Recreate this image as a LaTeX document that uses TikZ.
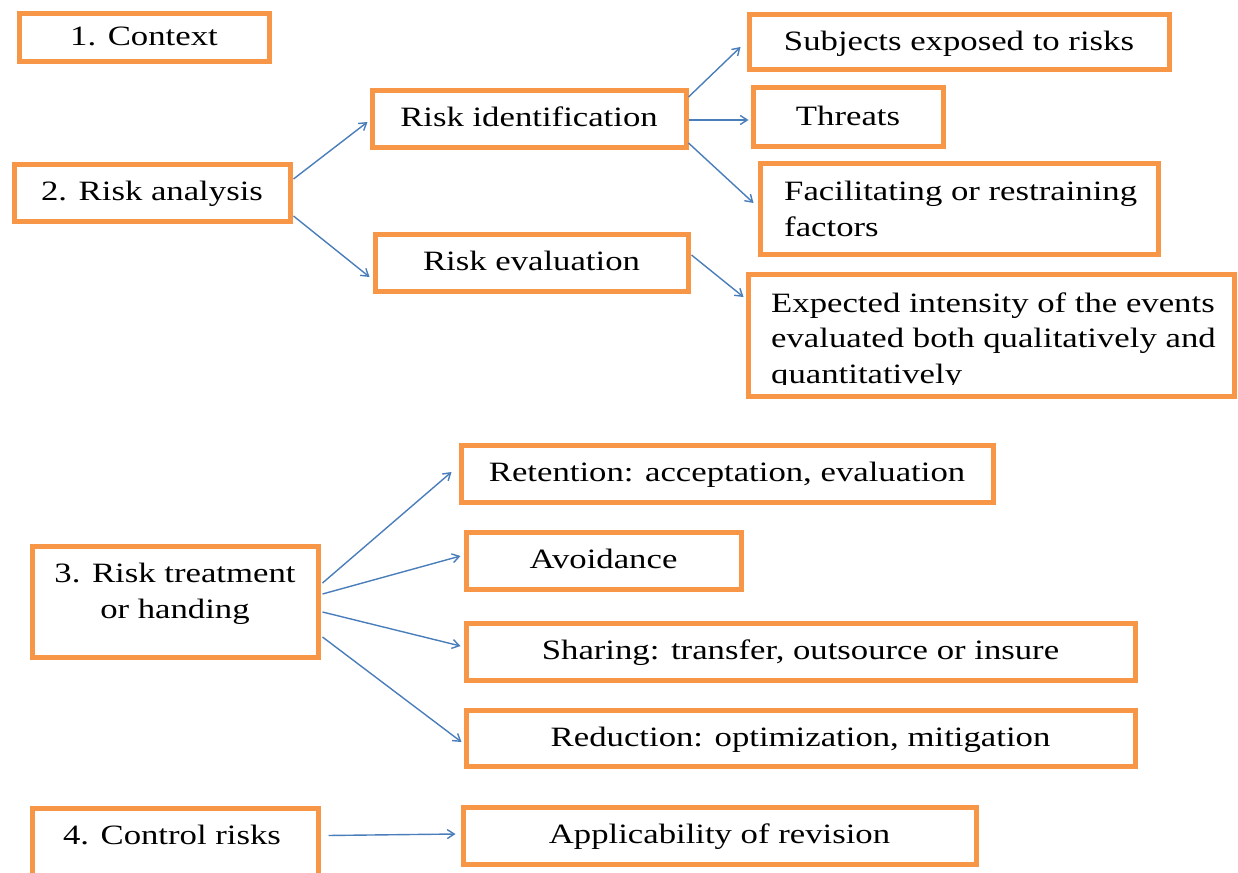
\documentclass[tikz,border=0pt]{standalone}
\usepackage{fontspec}
\setmainfont{Liberation Serif}[FakeStretch=1.24]
\usetikzlibrary{arrows.meta,calc}
\definecolor{boxorange}{HTML}{F79646}
\definecolor{arrowblue}{HTML}{4A7EBB}
\begin{document}
\begin{tikzpicture}[x=1pt,y=-1pt,
  box/.style={draw=boxorange, line width=5pt, rectangle, inner sep=0pt,
    font=\fontsize{28}{36}\selectfont, text height=21pt, text depth=5pt},
  txt/.style={inner sep=0pt, font=\fontsize{28}{36}\selectfont},
  conn/.style={draw=arrowblue, line width=1.4pt, -{Straight Barb[length=7pt,width=9pt]}}]
\useasboundingbox (0,0) rectangle (1238,872);
\clip (0,0) rectangle (1238,872);

% stage 1 and 2
\node[box, minimum width=250pt, minimum height=48pt] (ctx) at (144,38) {1. Context};
\node[box, minimum width=276pt, minimum height=57pt] (ana) at (152,192.5) {2. Risk analysis};
\node[box, minimum width=314pt, minimum height=56pt] (ide) at (529,119) {Risk identification};
\node[box, minimum width=313pt, minimum height=57pt] (eva) at (531.5,262.5) {Risk evaluation};
\node[box, minimum width=420pt, minimum height=55pt] (sub) at (959,42.5) {Subjects exposed to risks};
\node[box, minimum width=190pt, minimum height=58pt] (thr) at (848,117) {Threats};
\node[box, minimum width=398pt, minimum height=91pt] (fac) at (959,208.5) {};
\node[txt, anchor=base west] (fac1) at (784,200) {Facilitating or restraining};
\node[txt, anchor=base west] (fac2) at (784,236) {factors};
\node[box, minimum width=486pt, minimum height=122pt] (exp) at (991,335) {};
\begin{scope}
\clip (750,276) rectangle (1232,384.5);
\node[txt, anchor=base west] (exp1) at (771,312) {Expected intensity of the events};
\node[txt, anchor=base west] (exp2) at (771,347) {evaluated both qualitatively and};
\node[txt, anchor=base west] (exp3) at (771,383) {quantitatively};
\end{scope}

% stage 3
\node[box, minimum width=286pt, minimum height=111pt] (tre) at (175,601.5) {};
\node[txt, anchor=base] (tre1) at (175,582) {3. Risk treatment};
\node[txt, anchor=base] (tre2) at (175,618) {or handing};
\node[box, minimum width=532pt, minimum height=57pt] (ret) at (727,473.5) {Retention: acceptation, evaluation};
\node[box, minimum width=275pt, minimum height=57pt] (avo) at (603.5,560.5) {Avoidance};
\node[box, minimum width=669pt, minimum height=57pt] (sha) at (800.5,651.5) {Sharing: transfer, outsource or insure};
\node[box, minimum width=669pt, minimum height=56pt] (red) at (800.5,738) {Reduction: optimization, mitigation};

% stage 4
\node[box, minimum width=286pt, minimum height=84pt] (con) at (175,850) {};
\node[txt, anchor=base] (con1) at (172,844) {4. Control risks};
\node[box, minimum width=513pt, minimum height=57pt] (app) at (719.5,835.5) {Applicability of revision};

% connectors
\draw[conn] ($(ana.east)+(1,-13.5)$) -- ($(ide.west)+(-2,3)$);
\draw[conn] ($(ana.east)+(1,23.5)$) -- ($(eva.west)+(-3,14.5)$);
\draw[conn] ($(ide.east)+(0,-22)$) -- ($(sub.west)+(-6,4.5)$);
\draw[conn] ($(ide.east)+(0,1)$) -- ($(thr.west)+(-2,3)$);
\draw[conn] ($(ide.east)+(0,24)$) -- ($(fac.west)+(-4,-5.5)$);
\draw[conn] ($(eva.east)+(1,-7.5)$) -- ($(exp.west)+(-2,-38)$);
\draw[conn] ($(tre.east)+(2,-18.5)$) -- ($(ret.west)+(-7,-1.5)$);
\draw[conn] ($(tre.east)+(2,-7.5)$) -- ($(avo.west)+(-3,-4.5)$);
\draw[conn] ($(tre.east)+(2,10.5)$) -- ($(sha.west)+(-3,-5.5)$);
\draw[conn] ($(tre.east)+(2,35.5)$) -- ($(red.west)+(-2,4)$);
\draw[conn] ($(con.east |- con1.center)+(8,1)$) -- ($(app.west)+(-5,-1.5)$);
\end{tikzpicture}
\end{document}
